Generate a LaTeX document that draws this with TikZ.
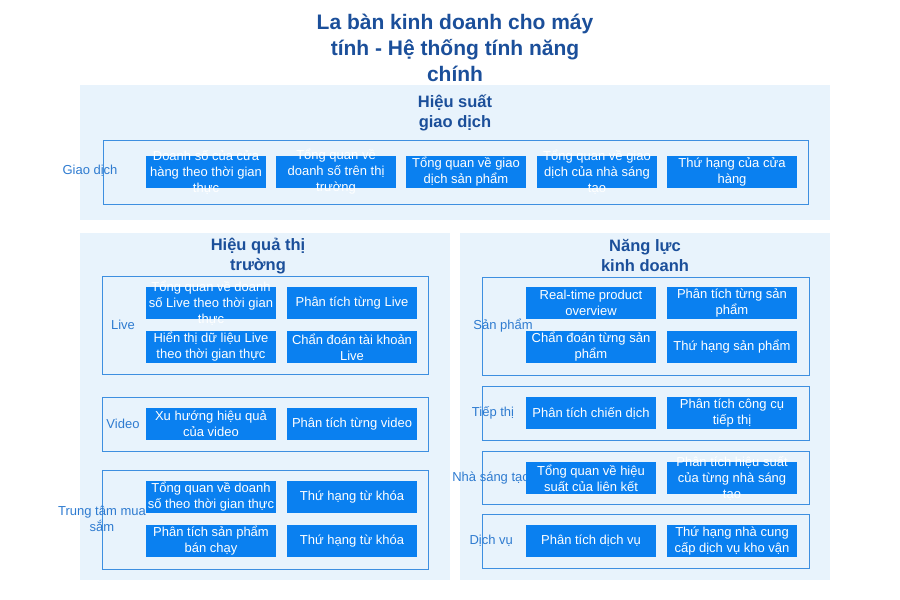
\documentclass[tikz,border=0pt]{standalone}
\usepackage{fontspec}
\setmainfont{Liberation Sans}
\definecolor{deepblue}{HTML}{1B4F9A}
\definecolor{panelbg}{HTML}{E8F3FC}
\definecolor{framecol}{HTML}{3D8FE0}
\definecolor{featcol}{HTML}{0A80F0}
\definecolor{labelcol}{HTML}{2E7BD0}
\tikzset{
  panel/.style={fill=panelbg, draw=none},
  frame/.style={draw=framecol, line width=0.9pt},
  featbox/.style={fill=featcol, draw=none, minimum height=32, inner sep=0},
  feattext/.style={text=white, align=center, font=\fontsize{13}{16}\selectfont, inner sep=0},
  heading/.style={text=deepblue, align=center, font=\bfseries\fontsize{16.5}{20}\selectfont},
  grouplabel/.style={text=labelcol, align=center, font=\fontsize{13}{16}\selectfont}
}
\newcommand{\feature}[5]{%
  \node[featbox, minimum width=#4] (#1) at (#2,#3) {};
  \node[feattext] at (#1) {#5};}
\begin{document}
\begin{tikzpicture}[x=1pt,y=-1pt]
\useasboundingbox (0,0) rectangle (900,600);
%tiêu đề
\node[text=deepblue, align=center, font=\bfseries\fontsize{21}{26}\selectfont] (title) at (455,48)
  {La bàn kinh doanh cho máy\\tính - Hệ thống tính năng\\chính};

%các khối nền
\fill[panel] (80,85) rectangle (830,220);
\fill[panel] (80,233) rectangle (450,580);
\fill[panel] (460,233) rectangle (830,580);
\node[heading] (hsgd) at (455,113) {Hiệu suất\\giao dịch};
\node[heading] (hqtt) at (258,256) {Hiệu quả thị\\trường};
\node[heading] (nlkd) at (645,256) {Năng lực\\kinh doanh};

%khung nhóm
\foreach \a/\b/\c/\d in
{ 103/140/808/204,
  102/276/428/374,
  102/397/428/451,
  102/470/428/569,
  482/277/809/375,
  482/386/809/440,
  482/451/809/504,
  482/514/809/568
}
{
    \draw[frame] (\a,\b) rectangle (\c,\d);
};

\foreach \fname/\fx/\fy/\ftext in
{ lGD/90/171/{Giao dịch},
  lLive/123/325/{Live},
  lVideo/123/424/{Video},
  lMall/102/519/{Trung tâm mua\\sắm},
  lSP/503/326/{Sản phẩm},
  lTT/493/413/{Tiếp thị},
  lNST/491/478/{Nhà sáng tạo},
  lDV/493/541/{Dịch vụ}
}
{
    \node[grouplabel] (\fname) at (\fx,\fy) {\ftext};
};

%các tính năng
\feature{g1}{206}{172}{120}{Doanh số của cửa\\hàng theo thời gian\\thực}
\feature{g2}{336}{172}{120}{Tổng quan về\\doanh số trên thị\\trường}
\feature{g3}{466}{172}{120}{Tổng quan về giao\\dịch sản phẩm}
\feature{g4}{597}{172}{120}{Tổng quan về giao\\dịch của nhà sáng\\tạo}
\feature{g5}{732}{172}{130}{Thứ hạng của cửa\\hàng}
\feature{l1}{211}{303}{130}{Tổng quan về doanh\\số Live theo thời gian\\thực}
\feature{l2}{352}{303}{130}{Phân tích từng Live}
\feature{l3}{211}{347}{130}{Hiển thị dữ liệu Live\\theo thời gian thực}
\feature{l4}{352}{347}{130}{Chẩn đoán tài khoản\\Live}
\feature{v1}{211}{424}{130}{Xu hướng hiệu quả\\của video}
\feature{v2}{352}{424}{130}{Phân tích từng video}
\feature{m1}{211}{497}{130}{Tổng quan về doanh\\số theo thời gian thực}
\feature{m2}{352}{497}{130}{Thứ hạng từ khóa}
\feature{m3}{211}{541}{130}{Phân tích sản phẩm\\bán chạy}
\feature{m4}{352}{541}{130}{Thứ hạng từ khóa}
\feature{s1}{591}{303}{130}{Real-time product\\overview}
\feature{s2}{732}{303}{130}{Phân tích từng sản\\phẩm}
\feature{s3}{591}{347}{130}{Chẩn đoán từng sản\\phẩm}
\feature{s4}{732}{347}{130}{Thứ hạng sản phẩm}
\feature{t1}{591}{413}{130}{Phân tích chiến dịch}
\feature{t2}{732}{413}{130}{Phân tích công cụ\\tiếp thị}
\feature{c1}{591}{478}{130}{Tổng quan về hiệu\\suất của liên kết}
\feature{c2}{732}{478}{130}{Phân tích hiệu suất\\của từng nhà sáng\\tạo}
\feature{d1}{591}{541}{130}{Phân tích dịch vụ}
\feature{d2}{732}{541}{130}{Thứ hạng nhà cung\\cấp dịch vụ kho vận}
\end{tikzpicture}
\end{document}
